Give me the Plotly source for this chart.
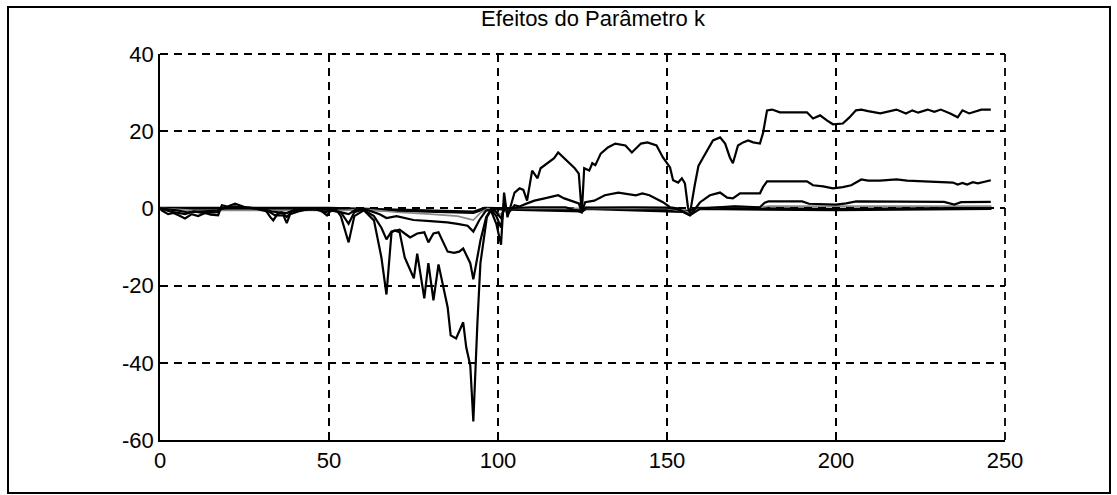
import plotly.graph_objects as go

# ---- data ----
s1_x = [0, 0.5, 2.4, 4, 5.5, 7.4, 9.4, 11.3, 13.3, 15, 17.2, 18.3, 20, 22.2, 25.2, 28.1, 31.1, 32.6, 33.5,
        34.5, 36.5, 37.5, 38.5, 40.9, 44.9, 46.8, 48.3, 49.4, 50.3, 52, 53.5, 55.8, 57.5, 60.3, 63.3, 65.5,
        67, 68.5, 69.4, 70.9, 72.4, 75.1, 76.1, 78.2, 79.4, 80.9, 82.4, 83.9, 85.1, 86, 87.6, 89.7, 90.6,
        91.8, 92.7, 93.9, 94.8, 96.7, 97.9, 99.5, 100.9, 101.8, 102.8, 104.9, 106.4, 107.5, 108.6, 110.1,
        111.7, 112.6, 114.7, 116.6, 117.8, 119.3, 120.9, 122.7, 123.9, 124.8, 125.5, 127, 127.9, 128.8,
        130.4, 132.5, 134.7, 137.7, 139.6, 142.3, 144.2, 146.9, 148.8, 150.9, 151.8, 153.3, 154.4, 155.3,
        156.2, 156.8, 158.2, 159.3, 160.7, 163.6, 165.7, 167.2, 168.6, 169.5, 171, 172.5, 174, 175.5,
        177.5, 178.4, 179.6, 181.1, 183.4, 186.4, 191.4, 193.2, 195.3, 197.3, 199.1, 202, 203.9, 205.9,
        207.5, 209.5, 213.1, 217.9, 220.7, 222.6, 224.3, 227.1, 229.1, 231, 233.8, 236, 237.4, 239.4,
        243, 245.8]
s1_y = [0, -0.5, -1.5, -1.2, -1.8, -2.6, -1.5, -2, -1.2, -1.6, -1.8, 0.8, 0.5, 1.2, 0.3, 0, -0.3, -2.2, -3.1,
        -1.8, -1.8, -3.8, -1.5, -0.8, 0, 0, -1, -1.8, -0.8, -0.2, -2, -8.8, -2, -0.5, -3.1, -12.7,
        -22.3, -6.2, -5.7, -6.2, -12.7, -18.1, -11.7, -23.3, -14.2, -23.8, -14.5, -21.2, -25.6, -32.9, -33.7, -29.5, -36,
        -40.7, -55.2, -29.8, -14.2, -2.3, -0.5, -4, -9.4, 4.1, -2.3, 4.1, 5.2, 4.8, 2, 9.8,
        7.8, 10.4, 11.7, 13, 14.5, 13.2, 11.7, 10.4, 9, -1.3, 10.4, 9.8, 11.7, 11.2,
        14.2, 15.8, 16.8, 16.3, 14.5, 16.8, 17.1, 16.3, 13.2, 10.6, 7.3, 6.7, 7.8, 6.5,
        0.3, -1.3, 6, 11, 13.2, 17.6, 18.4, 16.8, 13.2, 11.7, 16.3, 17.1, 17.6, 17.1,
        16.8, 19.5, 25.4, 25.6, 24.9, 24.9, 24.9, 23.3, 24.1, 22.8, 21.8, 22, 23.5, 25.4,
        25.6, 25.2, 24.6, 25.6, 24.6, 25.4, 24.8, 25.6, 25, 25.6, 24.6, 23.6, 25.4, 24.6,
        25.6, 25.6]

s2_x = [0, 3, 7.4, 10, 13, 17, 18.3, 22, 28, 32.6, 34, 36, 37.5, 39, 45, 49, 50.3, 53.5, 55.8, 57.5, 60,
        63.3, 65.5, 67, 68.5, 70.9, 72.4, 74, 76.1, 78.2, 79.4, 80.9, 82.4, 85.1, 87, 88.5, 89.7, 91.8,
        92.7, 94.8, 96.5, 97.9, 99.5, 100.9, 101.8, 102.8, 104.9, 106.4, 108.6, 110.8, 113.8, 117.8,
        119.6, 121.8, 123.9, 124.8, 125.8, 128.5, 131.6, 135.6, 140.8, 142.7, 144.8, 148.8, 150.9, 153,
        156.8, 159.8, 162.7, 165.7, 167.8, 169.5, 171.6, 177.5, 178.4, 179.6, 183.4, 191.4, 193.2, 196.2,
        199.1, 202, 204.5, 207.5, 209.5, 213, 217.9, 221, 234.6, 236, 237.4, 238.8, 240.5, 242, 245.8]
s2_y = [0, -0.8, -1.5, -0.8, -1.2, -1, 0, 0.5, 0, -1, -1.8, -1, -2.2, -0.8, 0, -1, -0.5, -1, -4, -1, -0.3,
        -2, -5, -8, -6, -5.5, -6.5, -7.5, -6.5, -6.2, -8.8, -6.5, -6.2, -11.2, -11.5, -11.2, -10.4, -14.2,
        -18.4, -8.3, -2.3, -0.3, -2, -5, 1.5, -1.5, 0.8, 0.5, 1.3, 2, 2.6, 3.4,
        2.6, 2, 1.3, -1, 1.6, 2, 3.4, 4.1, 3.4, 3.9, 3.4, 1.6, 0.3, 0,
        -1.8, 1.6, 3.4, 4.1, 2.8, 2.6, 3.9, 3.9, 5.5, 7, 7, 7, 6, 5.7,
        5.2, 5.5, 6, 7.5, 7.2, 7.2, 7.5, 7.2, 6.7, 6.2, 6.6, 6.2, 6.8, 6.5, 7.3]

s3_x = [0, 5, 8, 12, 17, 18.3, 22, 30, 33, 37.5, 40, 50, 55.8, 58, 60, 65, 67, 70, 75, 80, 85, 88, 91,
        92.7, 94.5, 96.5, 99, 100.9, 102, 110, 120, 124.8, 126, 140, 150, 153, 156.8, 160, 165, 170,
        177.5, 178.9, 180, 190, 192, 200, 203, 206, 232, 235, 237, 245.8]
s3_y = [0, -0.5, -1, -0.8, -0.6, 0, 0.3, 0, -0.8, -1.2, -0.3, -0.3, -1.5, -0.3, 0, -1.5, -2.5, -2, -3, -3.3,
        -3.6, -4, -4.5, -6, -3, -0.5, -0.5, -2.5, 0, 0.3, 0.3, -1, 0.2, 0.3, 0.2, -0.2, -1.8, 0, 0.3, 0.5,
        0.3, 1.5, 1.8, 1.8, 1.2, 1.0, 1.3, 1.8, 1.7, 1.0, 1.6, 1.7]

s4_x = [0, 10, 35, 55, 60, 70, 80, 88, 92.7, 95, 97, 100.9, 102, 150, 157, 160, 170, 178, 180, 246]
s4_y = [0, -0.5, -0.5, -0.5, -0.2, -1, -1.5, -2, -3, -1, 0, -1.5, 0, 0, -1, 0, 0.5, 0.3, 0.6, 0.6]

s5_x = [0, 50, 92.7, 96, 124.8, 126, 157, 159, 200, 246]
s5_y = [0, 0, -1, 0, -0.6, 0, -0.8, 0, -0.3, 0]

title_text = "Efeitos do Parâmetro k"
x_ticks = [0, 50, 100, 150, 200, 250]
y_ticks = [-60, -40, -20, 0, 20, 40]
y_tick_text = ["-60", "-40", "-20", "0", "20", "40"]
x_tick_text = ["0", "50", "100", "150", "200", "250"]

fig = go.Figure()
series = [
    (s5_x, s5_y, "black", 3.4),
    (s4_x, s4_y, "#8a8a8a", 1.7),
    (s3_x, s3_y, "black", 2.2),
    (s2_x, s2_y, "black", 2.2),
    (s1_x, s1_y, "black", 2.2),
]
for xs, ys, c, w in series:
    fig.add_trace(go.Scatter(x=xs, y=ys, mode="lines", line=dict(color=c, width=w), showlegend=False,
                             hoverinfo="skip"))

font_family = "Liberation Sans, Arial, sans-serif"
axis_common = dict(
    showgrid=True, gridcolor="black", gridwidth=1.8, griddash="8px,6px",
    showline=True, linecolor="black", linewidth=1.8,
    ticks="inside", ticklen=5, tickcolor="black", tickwidth=1.4,
    zeroline=False, tickfont=dict(family=font_family, size=22, color="black"),
)
fig.update_xaxes(range=[0, 250], tickvals=x_ticks, ticktext=x_tick_text, **axis_common)
fig.update_yaxes(range=[-60, 40], tickvals=y_ticks, ticktext=y_tick_text, **axis_common)

# dashed frame on top/right like the reference
fig.add_shape(type="line", xref="paper", yref="paper", x0=0, x1=1, y0=1, y1=1,
              line=dict(color="black", width=1.8, dash="8px,6px"))
fig.add_shape(type="line", xref="paper", yref="paper", x0=1, x1=1, y0=0, y1=1,
              line=dict(color="black", width=1.8, dash="8px,6px"))
# outer frame around the figure
fig.add_shape(type="rect", xref="paper", yref="paper",
              x0=(8 - 160) / 845, x1=(1110 - 160) / 845,
              y0=(440 - 493) / 386, y1=(440 - 7) / 386,
              line=dict(color="black", width=2))

fig.update_layout(
    width=1117, height=495, autosize=False,
    margin=dict(l=160, r=112, t=54, b=55),
    paper_bgcolor="white", plot_bgcolor="white",
    title=dict(text=title_text, x=(593 - 160) / 845, xref="paper", xanchor="center",
               y=1 - 18 / 495, yref="container", yanchor="middle",
               font=dict(family=font_family, size=22, color="black")),
)
fig.write_html("out.html")
